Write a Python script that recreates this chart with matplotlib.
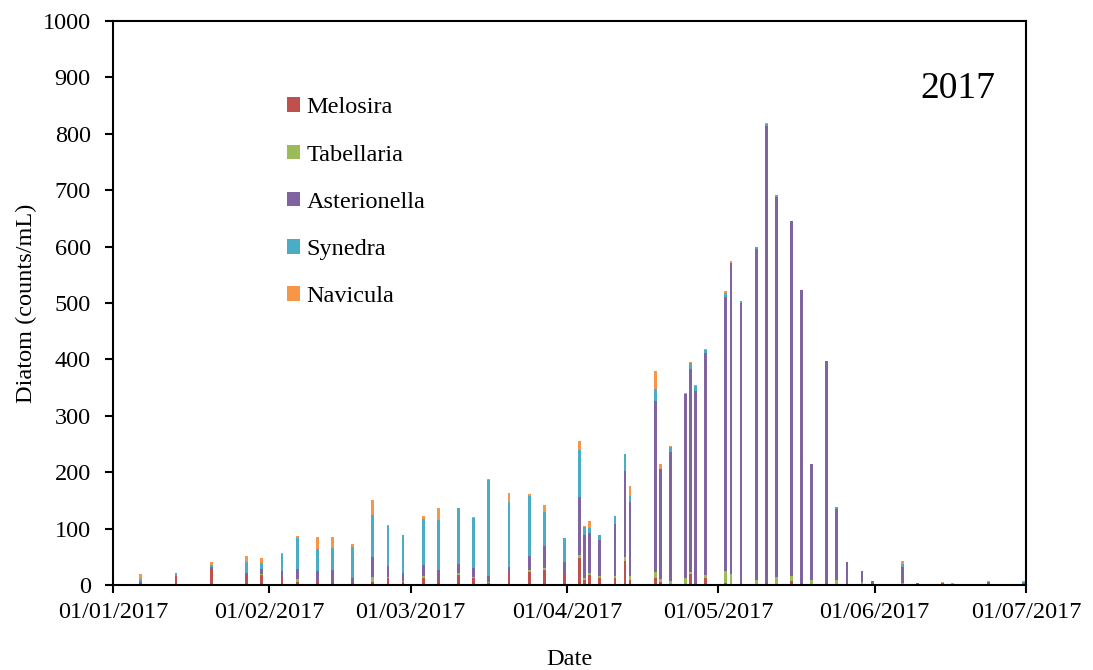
import matplotlib
matplotlib.use("Agg")
import matplotlib.pyplot as plt
import matplotlib.dates as mdates
from matplotlib.patches import Patch
import numpy as np
import pandas as pd

plt.rcParams['font.family'] = ['Liberation Serif', 'DejaVu Serif']

dates = ["2017-01-06", "2017-01-13", "2017-01-20", "2017-01-27", "2017-01-30",
         "2017-02-03", "2017-02-06", "2017-02-10", "2017-02-13", "2017-02-17",
         "2017-02-21", "2017-02-24", "2017-02-27", "2017-03-03", "2017-03-06",
         "2017-03-10", "2017-03-13", "2017-03-16", "2017-03-20", "2017-03-24",
         "2017-03-27", "2017-03-31", "2017-04-03", "2017-04-04", "2017-04-05",
         "2017-04-07", "2017-04-10", "2017-04-12", "2017-04-13", "2017-04-18",
         "2017-04-19", "2017-04-21", "2017-04-24", "2017-04-25", "2017-04-26",
         "2017-04-28", "2017-05-02", "2017-05-03", "2017-05-05", "2017-05-08",
         "2017-05-10", "2017-05-12", "2017-05-15", "2017-05-17", "2017-05-19",
         "2017-05-22", "2017-05-24", "2017-05-26", "2017-05-29", "2017-05-31",
         "2017-06-06", "2017-06-09", "2017-06-12", "2017-06-14", "2017-06-16",
         "2017-06-23", "2017-06-30"]

melosira = [3, 16, 26, 16, 17, 12, 6, 5, 4, 4,
            5, 13, 6, 12, 11, 18, 12, 4, 20, 23,
            27, 20, 48, 9, 18, 12, 13, 42, 9, 12,
            6, 2, 0, 19, 3, 13, 3, 2, 3, 0,
            3, 0, 7, 0, 0, 0, 0, 0, 0, 0,
            0, 0, 0, 0, 0, 0, 0]
tabellaria = [0, 0, 0, 0, 3, 0, 5, 0, 0, 0,
              10, 2, 1, 4, 0, 3, 3, 2, 0, 3,
              4, 0, 5, 4, 3, 4, 3, 8, 7, 11,
              4, 5, 12, 4, 0, 4, 21, 18, 0, 9,
              0, 15, 9, 0, 9, 0, 9, 0, 5, 0,
              4, 0, 0, 0, 0, 0, 0]
asterionella = [2, 0, 6, 6, 8, 12, 18, 19, 23, 9,
                34, 18, 14, 19, 16, 16, 16, 10, 12, 25,
                39, 21, 103, 75, 71, 64, 93, 153, 132, 304,
                196, 228, 327, 360, 341, 395, 486, 551, 497, 586,
                810, 673, 629, 523, 206, 397, 126, 41, 20, 7,
                28, 3, 2, 3, 2, 5, 4]
synedra = [5, 6, 3, 18, 11, 31, 54, 39, 38, 55,
           76, 72, 68, 82, 89, 100, 88, 170, 116, 107,
           60, 43, 84, 15, 9, 8, 13, 29, 9, 20,
           0, 9, 0, 11, 9, 4, 8, 0, 4, 4,
           4, 4, 0, 0, 0, 0, 3, 0, 0, 0,
           5, 0, 0, 0, 0, 0, 1]
navicula = [10, 0, 5, 11, 9, 1, 4, 22, 20, 5,
            26, 1, 0, 6, 21, 0, 2, 2, 16, 3,
            12, 0, 16, 1, 12, 0, 1, 1, 18, 32,
            8, 3, 2, 2, 2, 2, 4, 4, 0, 0,
            2, 0, 0, 0, 0, 0, 0, 0, 0, 0,
            5, 1, 0, 2, 2, 2, 2]

series_names = ["Melosira", "Tabellaria", "Asterionella", "Synedra", "Navicula"]
series_colors = ["#C0504D", "#9BBB59", "#8064A2", "#4BACC6", "#F79646"]
series_values = [melosira, tabellaria, asterionella, synedra, navicula]

x = pd.to_datetime(dates) + pd.Timedelta(hours=12)

fig = plt.figure(figsize=(10.93, 6.70), dpi=100)
ax = fig.add_axes([113/1093, 1 - 585/670, 913/1093, 564/670])

bottom = np.zeros(len(dates))
for name, col, vals in zip(series_names, series_colors, series_values):
    v = np.array(vals, dtype=float)
    ax.bar(x, v, width=0.55, bottom=bottom, color=col, linewidth=0, label=name)
    bottom += v

ax.set_xlim(pd.Timestamp("2017-01-01"), pd.Timestamp("2017-07-01"))
ax.set_ylim(0, 1000)
ax.set_yticks(np.arange(0, 1001, 100))
ax.xaxis.set_major_locator(mdates.MonthLocator())
ax.xaxis.set_major_formatter(mdates.DateFormatter("%d/%m/%Y"))

for s in ax.spines.values():
    s.set_linewidth(1.5)
    s.set_color("black")
ax.tick_params(axis='both', which='major', direction='out', length=6, width=1.5,
               labelsize=17.5, pad=6)
ax.tick_params(axis='y', pad=10)

ax.set_xlabel("Date", fontsize=17.5, labelpad=19)
ax.set_ylabel("Diatom (counts/mL)", fontsize=17.5, labelpad=4)

ax.text(0.966, 0.88, "2017", transform=ax.transAxes, ha='right', va='center',
        fontsize=27)

handles = [Patch(facecolor=c, edgecolor='none') for c in series_colors]
ax.legend(handles, series_names, loc='upper left', bbox_to_anchor=(0.18, 0.882),
          frameon=False, fontsize=17.5, handlelength=0.55, handleheight=0.55,
          handletextpad=0.25, labelspacing=1.08, borderaxespad=0)

fig.savefig("out.png", dpi=100)
